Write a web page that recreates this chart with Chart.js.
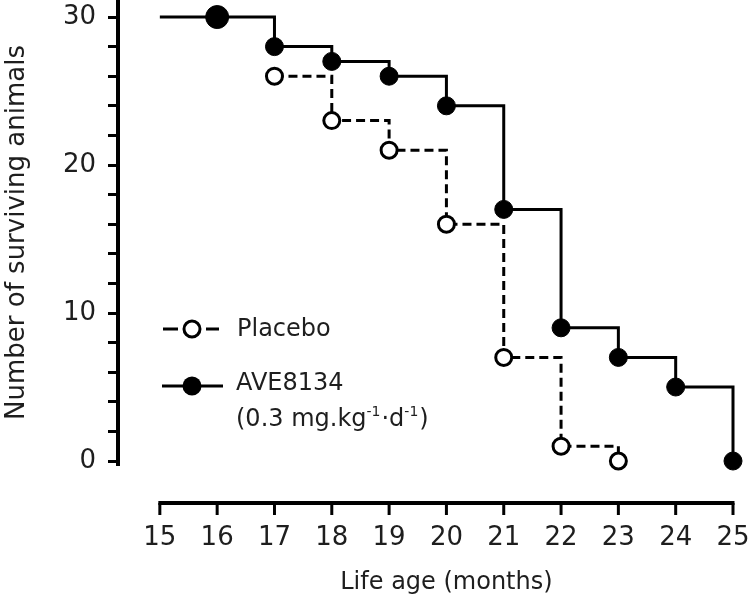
<!DOCTYPE html>
<html>
<head>
<meta charset="utf-8">
<title>Survival AVE8134 vs placebo</title>
<script src="https://cdn.jsdelivr.net/npm/chart.js@4.4.1/dist/chart.umd.min.js"></script>
<style>
  html, body { margin: 0; padding: 0; background: #fff; }
  #wrap { position: relative; width: 750px; height: 605px; }
</style>
</head>
<body>
<div id="wrap"><canvas id="survivalChart" width="750" height="605"></canvas></div>
<script>
// survival curves (step plot)
const aveMonths = [15, 16, 17, 18, 19, 20, 21, 22, 23, 24, 25];
const aveSurvivors = [30, 30, 28, 27, 26, 24, 17, 9, 7, 5, 0];
const placeboMonths = [17, 18, 19, 20, 21, 22, 23];
const placeboSurvivors = [26, 23, 21, 16, 7, 1, 0];

const xTickValues = [15, 16, 17, 18, 19, 20, 21, 22, 23, 24, 25];
const yTickValues = [0, 2, 4, 6, 8, 10, 12, 14, 16, 18, 20, 22, 24, 26, 28, 30];
const yLabelValues = [0, 10, 20, 30];

const FONT = '"DejaVu Sans", "Liberation Sans", sans-serif';
const INK = '#1e1e1e';

function toPoints(xs, ys) {
  return xs.map((x, i) => ({ x: x, y: ys[i] }));
}

// x axis sits below the plot, detached from the y axis (prism style),
// plus the hand-made legend with superscripts
const decorPlugin = {
  id: 'decor',
  afterDraw(chart) {
    const ctx = chart.ctx;
    const xs = chart.scales.x;
    const area = chart.chartArea;
    const axisY = area.bottom + 38;
    const x0 = xs.getPixelForValue(xTickValues[0]);
    const x1 = xs.getPixelForValue(xTickValues[xTickValues.length - 1]);

    ctx.save();
    ctx.strokeStyle = '#000';
    ctx.lineCap = 'butt';
    ctx.lineWidth = 4;
    ctx.beginPath();
    ctx.moveTo(x0 - 1.5, axisY);
    ctx.lineTo(x1 + 1.5, axisY);
    ctx.stroke();
    ctx.lineWidth = 3;
    xTickValues.forEach(v => {
      const px = xs.getPixelForValue(v);
      ctx.beginPath();
      ctx.moveTo(px, axisY);
      ctx.lineTo(px, axisY + 12);
      ctx.stroke();
    });

    // x title, centred under the 15..25 axis
    ctx.fillStyle = INK;
    ctx.font = '24px ' + FONT;
    ctx.textAlign = 'center';
    ctx.textBaseline = 'middle';
    ctx.fillText('Life age (months)', (x0 + x1) / 2, 583);

    // legend: placebo
    ctx.lineWidth = 3;
    ctx.beginPath();
    ctx.moveTo(163, 329); ctx.lineTo(178, 329);
    ctx.moveTo(206, 329); ctx.lineTo(219, 329);
    ctx.stroke();
    ctx.beginPath();
    ctx.arc(192, 329, 8, 0, Math.PI * 2);
    ctx.fillStyle = '#fff';
    ctx.fill();
    ctx.stroke();

    // legend: AVE8134
    ctx.beginPath();
    ctx.moveTo(162, 386); ctx.lineTo(223, 386);
    ctx.stroke();
    ctx.beginPath();
    ctx.arc(192, 386, 9.5, 0, Math.PI * 2);
    ctx.fillStyle = '#000';
    ctx.fill();

    ctx.fillStyle = INK;
    ctx.textAlign = 'left';
    ctx.font = '24px ' + FONT;
    ctx.fillText('Placebo', 237, 330);
    ctx.fillText('AVE8134', 236, 384);

    // (0.3 mg.kg-1·d-1) with superscripts
    const parts = [['(0.3 mg.kg', false], ['-1', true], ['·d', false], ['-1', true], [')', false]];
    let tx = 236;
    parts.forEach(([s, sup]) => {
      ctx.font = (sup ? '14px ' : '24px ') + FONT;
      ctx.fillText(s, tx, sup ? 412 : 420);
      tx += ctx.measureText(s).width + (sup ? 1 : 0);
    });
    ctx.restore();
  }
};

const ctx = document.getElementById('survivalChart').getContext('2d');

new Chart(ctx, {
  type: 'line',
  data: {
    datasets: [
      {
        label: 'AVE8134 (0.3 mg.kg-1·d-1)',
        data: toPoints(aveMonths, aveSurvivors),
        stepped: 'before',
        borderColor: '#000',
        borderWidth: 3,
        backgroundColor: '#000',
        pointBackgroundColor: '#000',
        pointBorderColor: '#000',
        pointBorderWidth: 1,
        // first point only anchors the line at 15 months; 16 months marker is larger
        pointRadius: c => c.dataIndex === 0 ? 0 : (c.dataIndex === 1 ? 11.5 : 9),
        fill: false,
        clip: false
      },
      {
        label: 'Placebo',
        data: toPoints(placeboMonths, placeboSurvivors),
        stepped: 'before',
        borderColor: '#000',
        borderWidth: 3,
        borderDash: [9, 5],
        pointBackgroundColor: '#fff',
        pointBorderColor: '#000',
        pointBorderWidth: 3,
        pointRadius: 8,
        fill: false,
        clip: false
      }
    ]
  },
  options: {
    responsive: false,
    animation: false,
    devicePixelRatio: 1,
    layout: { autoPadding: false, padding: { top: 0, right: 17, bottom: 0, left: 0 } },
    plugins: {
      legend: { display: false },
      tooltip: { enabled: false }
    },
    scales: {
      x: {
        type: 'linear',
        min: 14.27,
        max: 25,
        afterBuildTicks: s => { s.ticks = xTickValues.map(v => ({ value: v })); },
        afterFit: s => { s.height = 140; s.paddingLeft = 0; s.paddingRight = 0; },
        grid: { display: false, drawTicks: false },
        border: { display: false },
        ticks: {
          padding: 58,
          autoSkip: false,
          maxRotation: 0,
          color: INK,
          font: { family: FONT, size: 26 }
        }
      },
      y: {
        min: -0.27,
        max: 31.15,
        afterBuildTicks: s => { s.ticks = yTickValues.map(v => ({ value: v })); },
        afterFit: s => { s.width = 118; s.paddingTop = 0; s.paddingBottom = 0; },
        grid: {
          drawOnChartArea: false,
          drawTicks: true,
          tickLength: 10,
          tickWidth: 3,
          tickColor: '#000'
        },
        border: { display: true, width: 4, color: '#000' },
        ticks: {
          padding: 12,
          autoSkip: false,
          color: INK,
          font: { family: FONT, size: 26 },
          callback: v => yLabelValues.includes(v) ? String(v) : ''
        },
        title: {
          display: true,
          text: 'Number of surviving animals',
          color: INK,
          font: { family: FONT, size: 26 },
          padding: { top: 2, bottom: 0 }
        }
      }
    }
  },
  plugins: [decorPlugin]
});
</script>
</body>
</html>
